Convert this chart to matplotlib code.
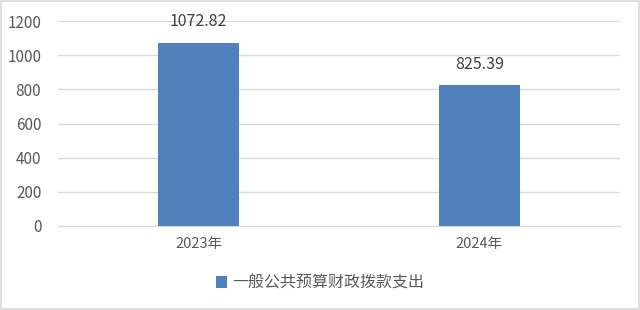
import matplotlib
matplotlib.use('Agg')
import matplotlib.pyplot as plt
from matplotlib.patches import Rectangle

plt.rcParams['font.family'] = ['Noto Sans CJK SC', 'DejaVu Sans']

categories = ['2023年', '2024年']
values = [1072.82, 825.39]
series_name = '一般公共预算财政拨款支出'
yticks = [0, 200, 400, 600, 800, 1000, 1200]

bar_color = '#4f81bd'
text_color = '#595959'

fig = plt.figure(figsize=(6.4, 3.1), dpi=100)
ax = fig.add_axes([58 / 640, 1 - 226 / 310, 562 / 640, 205 / 310])

x = list(range(len(categories)))
bars = ax.bar(x, values, width=0.29, color=bar_color, label=series_name, zorder=3)
for xi, v in zip(x, values):
    ax.annotate(f'{v:.2f}', (xi, v), xytext=(0, 15), textcoords='offset points',
                ha='center', va='center', fontsize=11.5, color='#404040')

ax.set_xlim(-0.5, len(categories) - 0.5)
ax.set_ylim(0, 1200)
ax.set_yticks(yticks)
ax.set_xticks(x)
ax.set_xticklabels(categories)
ax.tick_params(axis='both', length=0, colors=text_color, labelsize=10.5)
ax.tick_params(axis='y', pad=12, labelsize=11)
ax.tick_params(axis='x', pad=8)
ax.grid(axis='y', color='#d9d9d9', linewidth=1, zorder=0)
for s in ['top', 'right', 'left']:
    ax.spines[s].set_visible(False)
ax.spines['bottom'].set_color('#d9d9d9')

fig.legend(handles=[bars], labels=[series_name], loc='center', bbox_to_anchor=(0.5, 1 - 283 / 310),
           frameon=False, fontsize=11.5, handlelength=0.7, handleheight=0.7, handletextpad=0.3,
           labelcolor=text_color)

fig.patches.append(Rectangle((0.001, 0.002), 0.997, 0.995, transform=fig.transFigure,
                             fill=False, edgecolor='#d9d9d9', linewidth=1.2))

fig.savefig('out.png', dpi=100)
